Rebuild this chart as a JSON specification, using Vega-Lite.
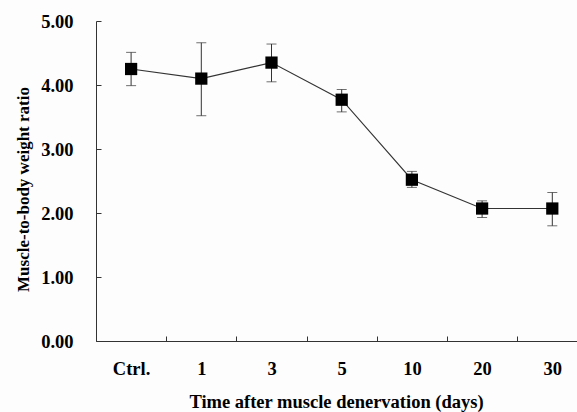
{
  "$schema": "https://vega.github.io/schema/vega-lite/v6.json",
  "autosize": "none",
  "width": 481,
  "height": 320,
  "padding": {"left": 96, "top": 21, "right": 0, "bottom": 71},
  "background": "#fdfdfd",
  "config": {
    "view": {"stroke": null},
    "font": "Liberation Serif"
  },
  "data": {
    "values": [
      {"time": "Ctrl.", "mean": 4.25, "lo": 3.99, "hi": 4.51},
      {"time": "1", "mean": 4.10, "lo": 3.52, "hi": 4.66},
      {"time": "3", "mean": 4.35, "lo": 4.05, "hi": 4.64},
      {"time": "5", "mean": 3.77, "lo": 3.58, "hi": 3.93},
      {"time": "10", "mean": 2.52, "lo": 2.40, "hi": 2.65},
      {"time": "20", "mean": 2.07, "lo": 1.93, "hi": 2.19},
      {"time": "30", "mean": 2.07, "lo": 1.80, "hi": 2.32}
    ]
  },
  "encoding": {
    "x": {
      "field": "time",
      "type": "nominal",
      "sort": null,
      "scale": {"type": "band", "paddingInner": 0, "paddingOuter": 0, "range": [0, 491.4]},
      "axis": {
        "title": "Time after muscle denervation (days)",
        "titleFont": "Liberation Serif",
        "titleFontSize": 18.5,
        "titleFontWeight": "bold",
        "titleColor": "#000",
        "titleBaseline": "alphabetic",
        "titleY": 66,
        "titleX": 240,
        "labelAngle": 0,
        "labelFont": "Liberation Serif",
        "labelFontSize": 18.5,
        "labelFontWeight": "bold",
        "labelColor": "#000",
        "labelPadding": 23,
        "tickBand": "extent",
        "tickSize": -5,
        "tickColor": "#333",
        "domainColor": "#333",
        "grid": false
      }
    }
  },
  "layer": [
    {
      "mark": {"type": "rule", "color": "#333", "strokeWidth": 1},
      "encoding": {
        "y": {"field": "lo", "type": "quantitative"},
        "y2": {"field": "hi"}
      }
    },
    {
      "mark": {"type": "tick", "color": "#333", "size": 10, "thickness": 1, "orient": "horizontal"},
      "encoding": {"y": {"field": "lo", "type": "quantitative"}}
    },
    {
      "mark": {"type": "tick", "color": "#333", "size": 10, "thickness": 1, "orient": "horizontal"},
      "encoding": {"y": {"field": "hi", "type": "quantitative"}}
    },
    {
      "mark": {"type": "line", "color": "#333", "strokeWidth": 1.1},
      "encoding": {
        "y": {
          "field": "mean",
          "type": "quantitative",
          "scale": {"domain": [0, 5], "nice": false, "zero": true},
          "axis": {
            "title": "Muscle-to-body weight ratio",
            "titleFont": "Liberation Serif",
            "titleFontSize": 17,
            "titleFontWeight": "bold",
            "titleColor": "#000",
            "titleBaseline": "alphabetic",
            "titleX": -68,
            "titleY": 168,
            "values": [0, 1, 2, 3, 4, 5],
            "format": ".2f",
            "labelFont": "Liberation Serif",
            "labelFontSize": 18.5,
            "labelFontWeight": "bold",
            "labelColor": "#000",
            "labelPadding": 28,
            "tickSize": -5,
            "tickColor": "#333",
            "domainColor": "#333",
            "grid": false
          }
        }
      }
    },
    {
      "mark": {"type": "point", "shape": "square", "filled": true, "color": "#000", "opacity": 1, "size": 150},
      "encoding": {"y": {"field": "mean", "type": "quantitative"}}
    }
  ]
}
